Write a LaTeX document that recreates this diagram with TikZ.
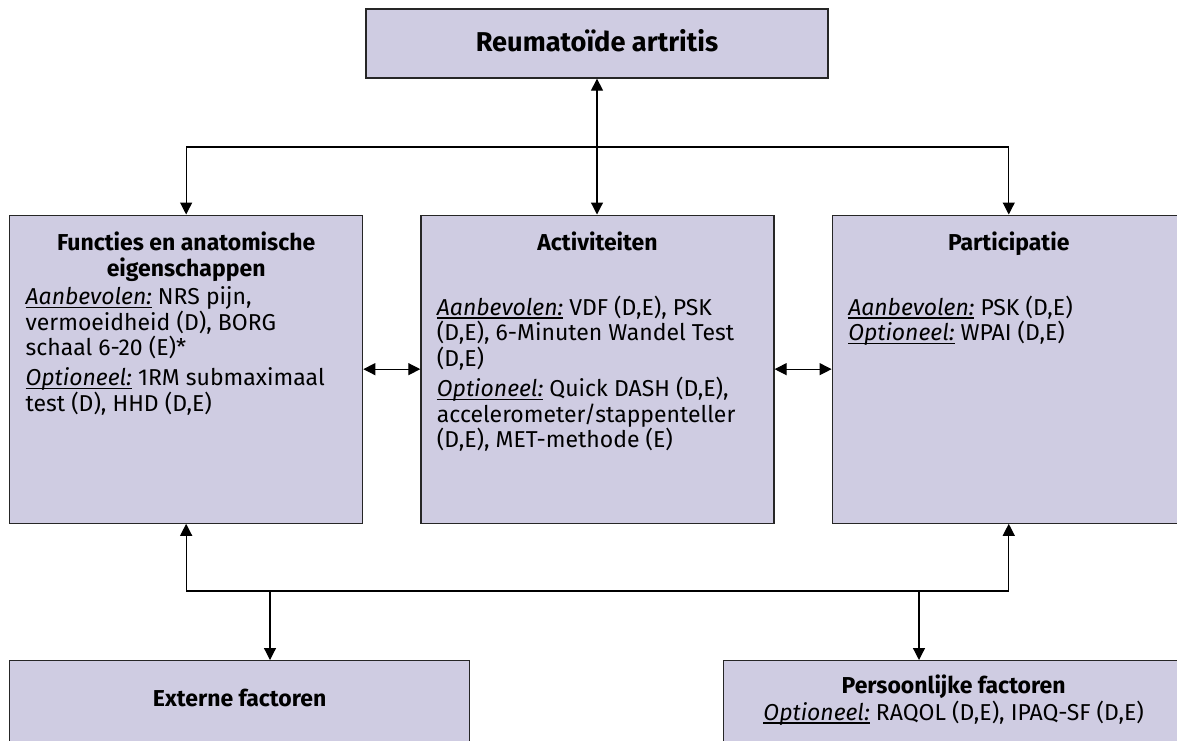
\documentclass[tikz,border=0pt]{standalone}
\usepackage{fontspec}
\setmainfont{Fira Sans}
\usetikzlibrary{arrows.meta, positioning}

\definecolor{boxfill}{RGB}{207,204,226}
\newcommand{\ulwoord}[1]{\leavevmode\setbox0\hbox{#1}\rlap{\rule[-1.6pt]{\wd0}{0.55pt}}\box0}
\newcommand{\aanb}{\ulwoord{\textit{Aanbevolen:}}}
\newcommand{\opt}{\ulwoord{\textit{Optioneel:}}}
\newcommand{\boxtext}[2]{\parbox[c][#1][t]{160.5pt}{\fontsize{11.5}{12.75}\selectfont\raggedright #2}}

\begin{document}
\begin{tikzpicture}[x=0.5pt, y=-0.5pt,
    box/.style={draw=black!85, fill=boxfill, line width=0.65pt, inner xsep=8pt, inner ysep=0pt, anchor=north west},
    arr/.style={line width=0.6pt, -{Triangle[length=6pt,width=6pt]}},
    dbl/.style={line width=0.6pt, {Triangle[length=6pt,width=6pt]}-{Triangle[length=6pt,width=6pt]}}]
    \useasboundingbox (0,0) rectangle (1177,740);

    \node[box, anchor=center, minimum width=231pt, minimum height=34.5pt, font=\fontsize{13.6}{15}\selectfont\bfseries] (ra) at (597,43.5) {\raisebox{3.5pt}{Reumatoïde artritis}};

    \node[box] (func) at (9,214.5) {\boxtext{154pt}{\vspace*{8.5pt}
        {\centering\bfseries Functies en anatomische\\ eigenschappen\par}
        \vspace{1.5pt}
        \aanb{} NRS pijn, vermoeidheid (D), BORG schaal 6-20 (E)*\par
        \vspace{2.2pt}
        \opt{} 1RM submaximaal test (D), HHD (D,E)}};
    \node[box, right=28.5pt of func] (act) {\boxtext{154pt}{\vspace*{8.5pt}
        {\centering\bfseries Activiteiten\par}
        \vspace{19.5pt}
        \aanb{} VDF (D,E), PSK (D,E), 6-Minuten Wandel Test (D,E)\par
        \vspace{2.5pt}
        \opt{} Quick DASH (D,E), accelerometer/stappenteller (D,E), MET-methode (E)}};
    \node[box, right=28.5pt of act] (part) {\boxtext{154pt}{\vspace*{8.5pt}
        {\centering\bfseries Participatie\par}
        \vspace{19.5pt}
        \aanb{} PSK (D,E)\\
        \opt{} WPAI (D,E)}};

    \node[box] (ext) at (9,660) {\parbox[c][60pt][t]{214pt}{\vspace*{14pt}
        \centering\fontsize{11.5}{13}\selectfont\bfseries Externe factoren}};
    \node[box] (pers) at (723,660) {\parbox[c][60pt][t]{214pt}{\vspace*{7pt}
        \centering\fontsize{11.5}{13.5}\selectfont{\bfseries Persoonlijke factoren}\\
        \opt{} RAQOL (D,E), IPAQ-SF (D,E)}};

    % bovenste verbindingen
    \coordinate (split) at (597,147);
    \draw[dbl] (ra.south) -- (ra.south |- act.north);
    \draw[arr] (split) -| (func.north);
    \draw[arr] (split) -| (part.north);
    \draw[dbl] (func.east) -- (act.west);
    \draw[dbl] (act.east) -- (part.west);

    % onderste verbindingen
    \coordinate (join) at (597,591);
    \coordinate (extin) at (270,591);
    \coordinate (persin) at (919,591);
    \draw[dbl] (func.south) |- (join) -| (part.south);
    \draw[arr] (extin) -- (extin |- ext.north);
    \draw[arr] (persin) -- (persin |- pers.north);
\end{tikzpicture}
\end{document}
